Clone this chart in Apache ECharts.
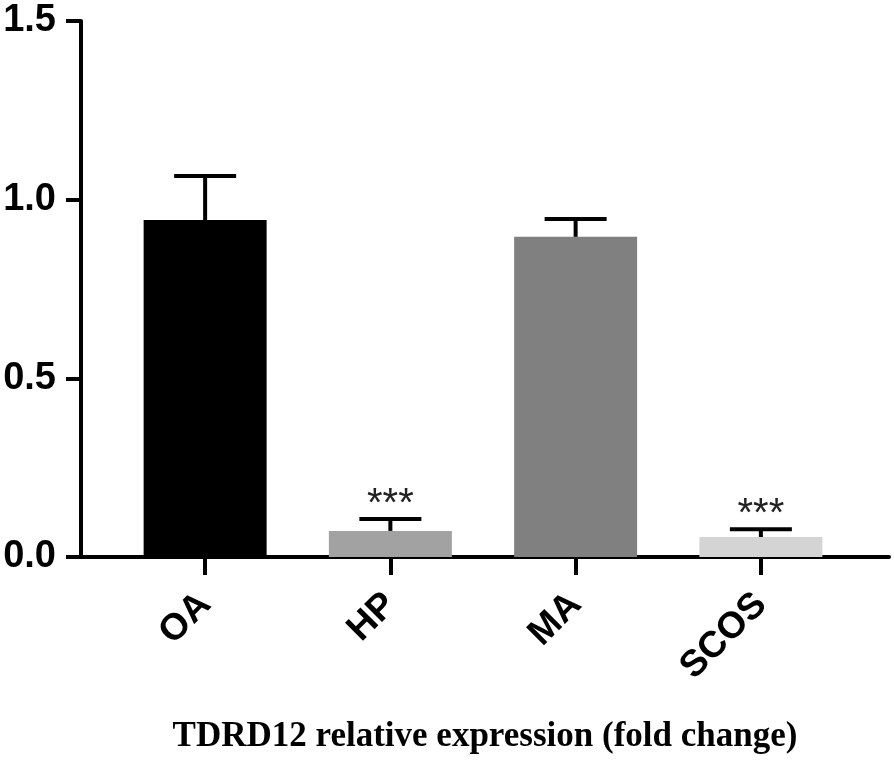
<!DOCTYPE html>
<html>
<head>
<meta charset="utf-8">
<script src="https://cdn.jsdelivr.net/npm/echarts@6/dist/echarts.min.js"></script>
<style>
html,body{margin:0;padding:0;background:#fff;}
#chart{width:894px;height:764px;}
</style>
</head>
<body>
<div id="chart"></div>
<script>
const categories = ['OA', 'HP', 'MA', 'SCOS'];
const means = [0.943, 0.073, 0.896, 0.056];
const errors = [0.123, 0.033, 0.050, 0.022];
const significance = ['', '***', '', '***'];
const barColors = ['#000000', '#a2a2a2', '#808080', '#d4d4d4'];
const yTicks = [0, 0.5, 1.0, 1.5];
const axisTitle = 'TDRD12 relative expression (fold change)';

const chart = echarts.init(document.getElementById('chart'));

const errData = categories.map((c, i) => [i, means[i], means[i] + errors[i], significance[i]]);

chart.setOption({
  animation: false,
  backgroundColor: '#ffffff',
  grid: [
    { left: 81, right: 5, top: 21, bottom: 207, containLabel: false },
    { left: 112.5, width: 741, top: 21, bottom: 207, containLabel: false }
  ],
  xAxis: [
    {
      type: 'value', gridIndex: 0, min: 0, max: 1,
      axisLine: { show: true, lineStyle: { color: '#000', width: 4 } },
      axisTick: { show: false }, axisLabel: { show: false }, splitLine: { show: false },
      name: axisTitle, nameLocation: 'middle', nameGap: 180,
      nameTextStyle: { fontFamily: 'Liberation Serif', fontWeight: 'bold', fontSize: 35, color: '#000', verticalAlign: 'middle' }
    },
    {
      type: 'category', gridIndex: 1, data: categories,
      axisLine: { show: false },
      axisTick: { show: true, alignWithLabel: true, length: 18, lineStyle: { color: '#000', width: 4 } },
      axisLabel: { rotate: 45, margin: 42, fontFamily: 'Liberation Sans', fontWeight: 'bold', fontSize: 37, color: '#000', interval: 0 },
      splitLine: { show: false }
    }
  ],
  yAxis: [
    {
      type: 'value', gridIndex: 0, min: yTicks[0], max: yTicks[yTicks.length - 1], interval: 0.5,
      axisLine: { show: true, lineStyle: { color: '#000', width: 4 } },
      axisTick: { show: true, length: 15, lineStyle: { color: '#000', width: 4 } },
      axisLabel: { margin: 25, fontFamily: 'Liberation Sans', fontWeight: 'bold', fontSize: 38, color: '#000',
        formatter: v => v.toFixed(1) },
      splitLine: { show: false }
    },
    {
      type: 'value', gridIndex: 1, min: yTicks[0], max: yTicks[yTicks.length - 1], interval: 0.5,
      show: false
    }
  ],
  series: [
    {
      type: 'bar', xAxisIndex: 1, yAxisIndex: 1, barWidth: 123,
      data: means.map((v, i) => ({ value: v, itemStyle: { color: barColors[i] } })),
      z: 1
    },
    {
      type: 'custom', xAxisIndex: 1, yAxisIndex: 1, z: 5,
      data: errData,
      renderItem: function (params, api) {
        const x = api.value(0);
        const base = api.coord([x, api.value(1)]);
        const top = api.coord([x, api.value(2)]);
        const half = 31;
        const style = { stroke: '#000', lineWidth: 4 };
        const children = [
          { type: 'line', shape: { x1: base[0], y1: base[1], x2: top[0], y2: top[1] }, style: style },
          { type: 'line', shape: { x1: top[0] - half, y1: top[1], x2: top[0] + half, y2: top[1] }, style: style }
        ];
        const sig = significance[params.dataIndex];
        if (sig) {
          children.push({
            type: 'text',
            style: { text: sig, x: top[0], y: top[1] - 14, align: 'center', verticalAlign: 'middle',
              fontFamily: 'Liberation Sans', fontSize: 40, fill: '#222' }
          });
        }
        return { type: 'group', children: children };
      }
    }
  ]
});
</script>
</body>
</html>
